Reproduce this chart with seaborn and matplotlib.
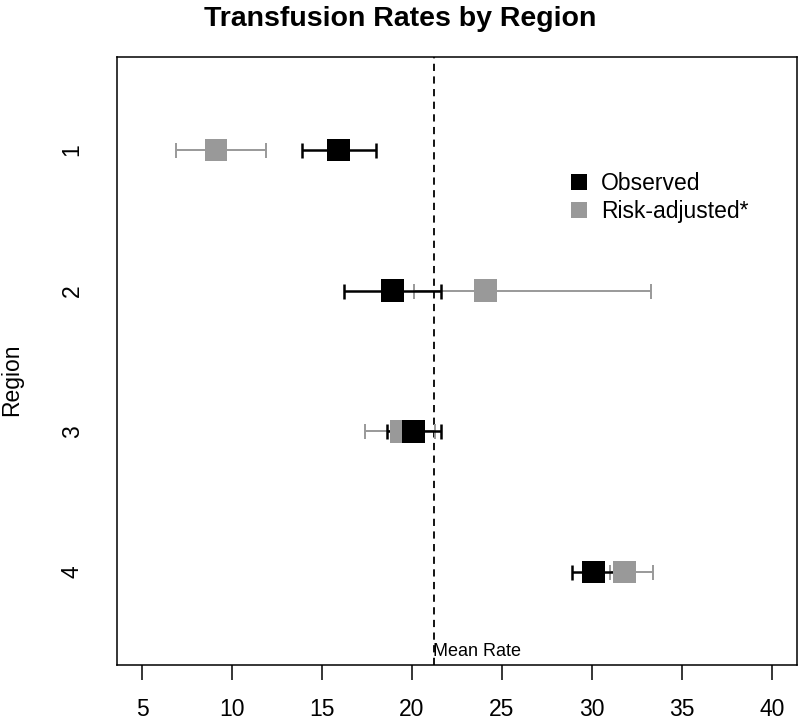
import matplotlib
matplotlib.use("Agg")
import matplotlib.pyplot as plt
from matplotlib.lines import Line2D
import seaborn as sns
import pandas as pd

# values
regions = [1, 2, 3, 4]
observed = [15.9, 18.9, 20.1, 30.1]
observed_lo = [13.9, 16.2, 18.6, 28.9]
observed_hi = [18.0, 21.6, 21.6, 31.2]
adjusted = [9.1, 24.1, 19.4, 31.8]
adjusted_lo = [6.9, 20.1, 17.4, 31.0]
adjusted_hi = [11.9, 33.3, 21.3, 33.4]
mean_rate = 21.2
x_ticks = [5, 10, 15, 20, 25, 30, 35, 40]

sns.set_theme(style="white")
plt.rcParams["font.family"] = ["Liberation Sans", "DejaVu Sans"]
plt.rcParams["text.color"] = "black"

df = pd.DataFrame({
    "Region": regions * 2,
    "Rate": observed + adjusted,
    "lo": observed_lo + adjusted_lo,
    "hi": observed_hi + adjusted_hi,
    "Type": ["Observed"] * 4 + ["Risk-adjusted*"] * 4,
})
colors = {"Observed": "#000000", "Risk-adjusted*": "#999999"}

fig = plt.figure(figsize=(8, 7.22), dpi=100)
ax = fig.add_axes([0.14625, 0.0792, 0.85, 0.8416])

# gray first, black on top
for kind, lw in [("Risk-adjusted*", 1.4), ("Observed", 1.8)]:
    sub = df[df["Type"] == kind]
    ax.errorbar(sub["Rate"], sub["Region"],
                xerr=[sub["Rate"] - sub["lo"], sub["hi"] - sub["Rate"]],
                fmt="none", ecolor=colors[kind], elinewidth=lw,
                capsize=5.4, capthick=lw, zorder=2)
    sns.scatterplot(data=sub, x="Rate", y="Region", marker="s", s=270,
                    color=colors[kind], edgecolor="none", linewidth=0,
                    ax=ax, zorder=3, legend=False)

ax.axvline(mean_rate, color="black", lw=1.3, linestyle=(0, (4, 3)), zorder=1)
ax.text(mean_rate - 0.05, 4.6, "Mean Rate", fontsize=13, ha="left",
        va="baseline", color="black")

ax.set_xlim(3.6, 41.4)
ax.set_ylim(4.66, 0.34)
ax.set_xticks(x_ticks)
ax.set_yticks(regions)
ax.set_yticklabels([str(r) for r in regions], rotation=90, va="center")
ax.tick_params(axis="x", length=11, width=1.1, pad=13, labelsize=16.5,
               colors="black", bottom=True)
ax.tick_params(axis="y", length=0, pad=24, labelsize=16.5, colors="black")
for sp in ax.spines.values():
    sp.set_color("black")
    sp.set_linewidth(1.1)
ax.set_xlabel("")
ax.set_ylabel("")

handles = [Line2D([], [], marker="s", linestyle="none", markersize=12,
                  color=colors[k], markeredgewidth=0) for k in colors]
ax.legend(handles, list(colors), loc="upper left",
          bbox_to_anchor=(0.6626, 0.811), frameon=False, fontsize=16.5,
          handlelength=1.0, handletextpad=0.45, labelspacing=0.2,
          borderpad=0, borderaxespad=0)

fig.text(0.5, 1 - 19 / 722, "Transfusion Rates by Region", ha="center",
         va="center", fontsize=20.5, fontweight="bold", color="black")
fig.text(12 / 800, 1 - 380 / 722, "Region", rotation=90, ha="center",
         va="center", fontsize=16.5, color="black")

fig.savefig("out.png", dpi=100)
